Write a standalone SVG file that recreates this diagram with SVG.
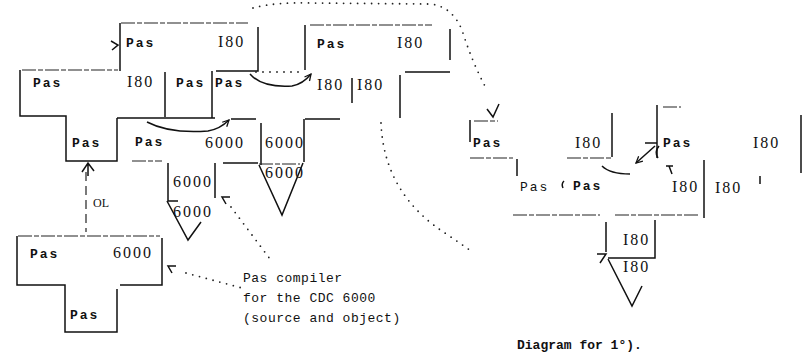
<svg xmlns="http://www.w3.org/2000/svg" width="807" height="354" viewBox="0 0 807 354">
<style>
.l{fill:none;stroke:#111;stroke-width:1.5}
.d{fill:none;stroke:#222;stroke-width:1.2;stroke-dasharray:14 2 5 2}
.p{fill:none;stroke:#222;stroke-width:1.8;stroke-linecap:round;stroke-dasharray:0 7}
.pas{font-family:"Liberation Mono",monospace;font-weight:bold;font-size:13px;letter-spacing:2px;fill:#111}
.pasl{font-family:"Liberation Mono",monospace;font-size:13px;letter-spacing:2px;fill:#111}
.num{font-family:"Liberation Serif",serif;font-size:16px;letter-spacing:2px;fill:#111}
.txt{font-family:"Liberation Mono",monospace;font-size:13px;letter-spacing:0.5px;fill:#111}
.cap{font-family:"Liberation Mono",monospace;font-weight:bold;font-size:13px;fill:#111}
.ol{font-family:"Liberation Serif",serif;font-size:12px;fill:#111}
</style>
<defs>
<marker id="ah" viewBox="0 0 10 10" refX="9" refY="5" markerWidth="8" markerHeight="8" orient="auto" markerUnits="userSpaceOnUse">
<path d="M1,1 L9,5 L1,9" fill="none" stroke="#111" stroke-width="1.6"/>
</marker>
</defs>

<g id="t-left">
<path class="d" d="M22,70 H118"/>
<path class="l" d="M20,70 V116 H66 V161 H117 V118"/>
<text class="pas" x="33" y="87">Pas</text>
<text class="num" x="127" y="87">I80</text>
<text class="pas" x="72" y="147">Pas</text>
</g>

<g id="t-top">
<path class="d" d="M121,23 H248"/>
<path class="l" d="M120,23 V71"/>
<path class="l" d="M258,27 V71 H216"/>
<path class="l" d="M165,72 V117 M212,71 V118"/>
<text class="pas" x="126" y="47">Pas</text>
<text class="num" x="218" y="47">I80</text>
<text class="pas" x="176" y="87">Pas</text>
<text class="pas" x="215" y="87">Pas</text>
</g>

<g id="t-topright">
<path class="l" d="M305,25 V70"/>
<path class="d" d="M310,25 H432"/>
<path class="l" d="M450,29 V60 M405,72 H450"/>
<path class="p" d="M256,72 H303"/>
<path class="l" d="M352,78 V103 M400,75 V118"/>
<text class="pas" x="317" y="48">Pas</text>
<text class="num" x="397" y="48">I80</text>
<text class="num" x="317" y="90">I80</text>
<text class="num" x="357" y="90">I80</text>
</g>

<g id="t-mid">
<path class="l" d="M117,118 H215 M231,119 H256"/>
<path class="d" d="M132,161 H162"/>
<path class="l" d="M223,163 H258"/>
<path class="l" d="M305,119 H340"/>
<text class="pas" x="135" y="146">Pas</text>
<text class="num" x="205" y="148">6000</text>
</g>

<g id="m-a">
<path class="l" d="M261,123 V165 M304,119 V162"/>
<path class="d" d="M259,164 H300"/>
<path class="l" d="M259,165 L282,215 L303,163"/>
<text class="num" x="265" y="148">6000</text>
<text class="num" x="265" y="178">6000</text>
</g>

<g id="m-b">
<path class="l" d="M168,163 V201 H178 M215,163 V198"/>
<path class="l" d="M167,201 L188,240 L201,222"/>
<text class="num" x="173" y="187">6000</text>
<text class="num" x="173" y="217">6000</text>
</g>

<g id="t-bl">
<path class="d" d="M18,236 H160"/>
<path class="l" d="M17,236 V285 H65 V332 H117 V289"/>
<path class="l" d="M120,285 H162 V238"/>
<text class="pas" x="30" y="258">Pas</text>
<text class="num" x="113" y="258">6000</text>
<text class="pas" x="70" y="319">Pas</text>
</g>

<g id="note">
<text class="txt" x="243" y="282">Pas compiler</text>
<text class="txt" x="243" y="302">for the CDC 6000</text>
<text class="txt" x="243" y="322">(source and object)</text>
</g>

<g id="r-t1">
<path class="l" d="M470,120 V142"/>
<path class="d" d="M474,121 H498"/>
<path class="l" d="M612,113 V157"/>
<path class="d" d="M470,158 H513"/>
<path class="l" d="M517,159 V176"/>
<path class="d" d="M567,158 H612"/>
<path class="l" d="M564,181 Q561,184 563,188"/>
<text class="pas" x="473" y="147">Pas</text>
<text class="num" x="575" y="148">I80</text>
<text class="pasl" x="520" y="191">Pas</text>
<text class="pas" x="573" y="190">Pas</text>
</g>

<g id="r-t2">
<path class="l" d="M657,105 V158"/>
<path class="d" d="M663,107 H681"/>
<path class="l" d="M801,115 V173"/>
<path class="l" d="M704,160 V218"/>
<path class="l" d="M760,176 V184"/>
<path class="d" d="M513,215 H600 M615,215 H700"/>
<text class="pas" x="663" y="147">Pas</text>
<text class="num" x="753" y="148">I80</text>
<text class="num" x="672" y="192">I80</text>
<text class="num" x="715" y="193">I80</text>
</g>

<g id="r-m">
<path class="l" d="M606,222 V252 M655,220 V258 H608"/>
<path class="l" d="M608,259 L632,306 L642,286"/>
<text class="num" x="623" y="245">I80</text>
<text class="num" x="623" y="272">I80</text>
</g>

<g id="caption">
<text class="cap" x="517" y="349">Diagram for 1°).</text>
</g>

<g id="connectors">
<path class="l" d="M111,41 L118,45 L112,50"/>
<path class="l" d="M147,122 Q170,134 208,131 Q220,129 229,120" marker-end="url(#ah)"/>
<path class="l" d="M250,74 Q262,88 292,86 Q303,84 311,74" marker-end="url(#ah)"/>
<path class="d" d="M86,172 V232" style="stroke-dasharray:9 5"/>
<path class="l" d="M88,163 V176 M82,172 L88,163 L94,171"/>
<text class="ol" x="93" y="207">OL</text>
<path class="l" d="M176,266 H168 L172,273"/>
<path class="p" d="M186,273 L242,288"/>
<path class="l" d="M230,197 H222 L226,204"/>
<path class="p" d="M231,207 L273,263"/>
<path class="p" d="M253,8 Q275,2 310,3 L430,4 Q452,6 462,30 Q472,62 486,88"/>
<path class="l" d="M487,109 L493,117 L499,104"/>
<path class="p" d="M381,123 Q384,195 448,235 L474,253"/>
<path class="l" d="M602,166 Q610,174 630,174"/>
<path class="l" d="M645,143 H657"/>
<path class="l" d="M655,146 L636,163" marker-end="url(#ah)"/>
<path class="l" d="M659,146 Q654,152 658,158"/>
<path class="l" d="M666,166 H673 M669,166 L672,174"/>
<path class="l" d="M597,254 H606 L600,263"/>
</g>
</svg>
